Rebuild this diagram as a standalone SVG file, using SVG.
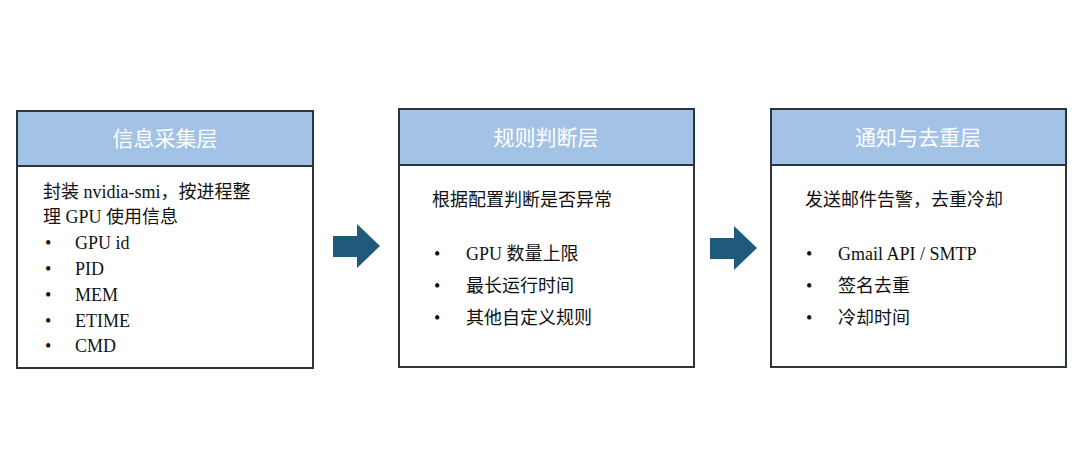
<svg xmlns="http://www.w3.org/2000/svg" width="1080" height="459" viewBox="0 0 1080 459">
<style>
.box{fill:#fff;stroke:#2b3440;stroke-width:2}
.hd{fill:#a3c3e6;stroke:#2b3440;stroke-width:2}
.ht{font-family:"Noto Sans CJK SC",sans-serif;font-size:21px;fill:#fff;text-anchor:middle}
.t{font-family:"Liberation Serif","Noto Sans CJK SC",serif;font-size:18px;fill:#111}
.arr{fill:#1f5a7c}
</style>
<rect width="1080" height="459" fill="#fff"/>
<g id="node1">
<rect class="box" x="17" y="111" width="296" height="257"/>
<rect class="hd" x="17" y="111" width="296" height="55"/>
<text class="ht" x="165" y="146">信息采集层</text>
<text class="t" x="43" y="198">封装 nvidia-smi，按进程整</text>
<text class="t" x="43" y="223">理 GPU 使用信息</text>
<text class="t" x="45" y="249">•</text><text class="t" x="75" y="249">GPU id</text>
<text class="t" x="45" y="275">•</text><text class="t" x="75" y="275">PID</text>
<text class="t" x="45" y="301">•</text><text class="t" x="75" y="301">MEM</text>
<text class="t" x="45" y="327">•</text><text class="t" x="75" y="327">ETIME</text>
<text class="t" x="45" y="352">•</text><text class="t" x="75" y="352">CMD</text>
</g>
<g id="node2">
<rect class="box" x="399" y="109" width="295" height="258"/>
<rect class="hd" x="399" y="109" width="295" height="56"/>
<text class="ht" x="546" y="145">规则判断层</text>
<text class="t" x="432" y="206">根据配置判断是否异常</text>
<text class="t" x="434" y="260">•</text><text class="t" x="466" y="260">GPU 数量上限</text>
<text class="t" x="434" y="292">•</text><text class="t" x="466" y="292">最长运行时间</text>
<text class="t" x="434" y="324">•</text><text class="t" x="466" y="324">其他自定义规则</text>
</g>
<g id="node3">
<rect class="box" x="771" y="109" width="295" height="258"/>
<rect class="hd" x="771" y="109" width="295" height="56"/>
<text class="ht" x="918" y="145">通知与去重层</text>
<text class="t" x="805" y="206">发送邮件告警，去重冷却</text>
<text class="t" x="806" y="260">•</text><text class="t" x="838" y="260">Gmail API / SMTP</text>
<text class="t" x="806" y="292">•</text><text class="t" x="838" y="292">签名去重</text>
<text class="t" x="806" y="324">•</text><text class="t" x="838" y="324">冷却时间</text>
</g>
<g id="connectors">
<polygon class="arr" points="333,236 357,236 357,224 380,246 357,268 357,257 333,257"/>
<polygon class="arr" points="710,238 734,238 734,226 757,248 734,270 734,259 710,259"/>
</g>
</svg>
